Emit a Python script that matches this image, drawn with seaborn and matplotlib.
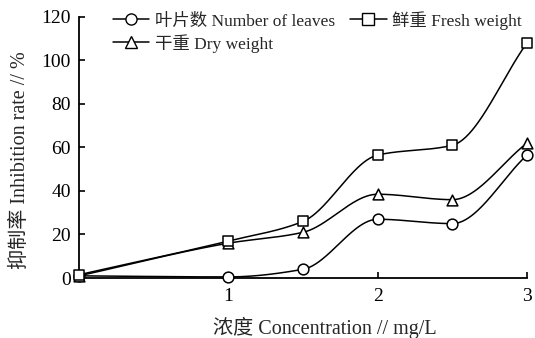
import numpy as np
import pandas as pd
import matplotlib
matplotlib.use("Agg")
import matplotlib.pyplot as plt
from matplotlib.lines import Line2D
import seaborn as sns

conc = [0, 1, 1.5, 2, 2.5, 3]
leaves = [1, 0.5, 4, 27, 25, 56.5]
dry = [1, 16, 21, 38.5, 36, 62]
fresh = [1.5, 17, 26, 56.5, 61, 108]

names = ["叶片数 Number of leaves", "干重 Dry weight", "鲜重 Fresh weight"]
markers = ["o", "^", "s"]
series = [leaves, dry, fresh]

sns.set_style("ticks")
plt.rcParams["font.family"] = ["Liberation Serif", "Noto Sans CJK SC"]


def pchip(x, y, xs):
    x = np.asarray(x, float); y = np.asarray(y, float)
    h = np.diff(x); d = np.diff(y) / h
    n = len(x); m = np.zeros(n)
    for k in range(1, n - 1):
        if d[k - 1] * d[k] > 0:
            w1 = 2 * h[k] + h[k - 1]; w2 = h[k] + 2 * h[k - 1]
            m[k] = (w1 + w2) / (w1 / d[k - 1] + w2 / d[k])
    m[0] = d[0]; m[-1] = d[-1]
    idx = np.clip(np.searchsorted(x, xs) - 1, 0, n - 2)
    t = (xs - x[idx]) / h[idx]
    h00 = 2 * t**3 - 3 * t**2 + 1; h10 = t**3 - 2 * t**2 + t
    h01 = -2 * t**3 + 3 * t**2; h11 = t**3 - t**2
    return h00 * y[idx] + h10 * h[idx] * m[idx] + h01 * y[idx + 1] + h11 * h[idx] * m[idx + 1]


fig = plt.figure(figsize=(5.35, 3.38), dpi=100)
ax = fig.add_axes([0.1477, 0.1775, 0.8373, 0.7725])

xs = np.linspace(0, 3, 300)
for name, vals, mk in zip(names, series, markers):
    ys = pchip(conc, vals, xs)
    sns.lineplot(x=xs, y=ys, ax=ax, color="black", lw=1.1, legend=False, clip_on=False)
    sns.scatterplot(x=conc, y=vals, ax=ax, marker=mk, s=60, facecolor="white",
                    edgecolor="black", linewidth=1.1, zorder=5, legend=False, clip_on=False)

ax.set_xlim(0, 3)
ax.set_ylim(0, 120)
ax.set_xticks([1, 2, 3])
ax.set_xticklabels(["1", "2", "3"])
ax.set_yticks([0, 20, 40, 60, 80, 100, 120])
ax.tick_params(direction="in", length=4, width=1.2, labelsize=14, colors="black")
ax.tick_params(axis="x", pad=7)
ax.tick_params(axis="y", pad=6)
for s in ["top", "right"]:
    ax.spines[s].set_visible(False)
for s in ["left", "bottom"]:
    ax.spines[s].set_linewidth(1.3)
    ax.spines[s].set_color("black")

ax.set_xlabel("浓度 Concentration // mg/L", fontsize=14.5)
ax.set_ylabel("抑制率 Inhibition rate // %", fontsize=14.5)
ax.xaxis.set_label_coords(0.549, -0.15)
ax.yaxis.set_label_coords(-0.11, 0.45)

handles = [Line2D([], [], color="black", lw=1.1, marker=mk, markersize=8,
                  markerfacecolor="white", markeredgecolor="black") for mk in markers]
leg = ax.legend(handles, names, ncol=2, loc="upper left", bbox_to_anchor=(0.06, 1.05),
                frameon=False, fontsize=12.5, handlelength=2.1, columnspacing=0.9,
                labelspacing=0.25, handletextpad=0.3, borderaxespad=0)

fig.savefig("out.png", dpi=100)
